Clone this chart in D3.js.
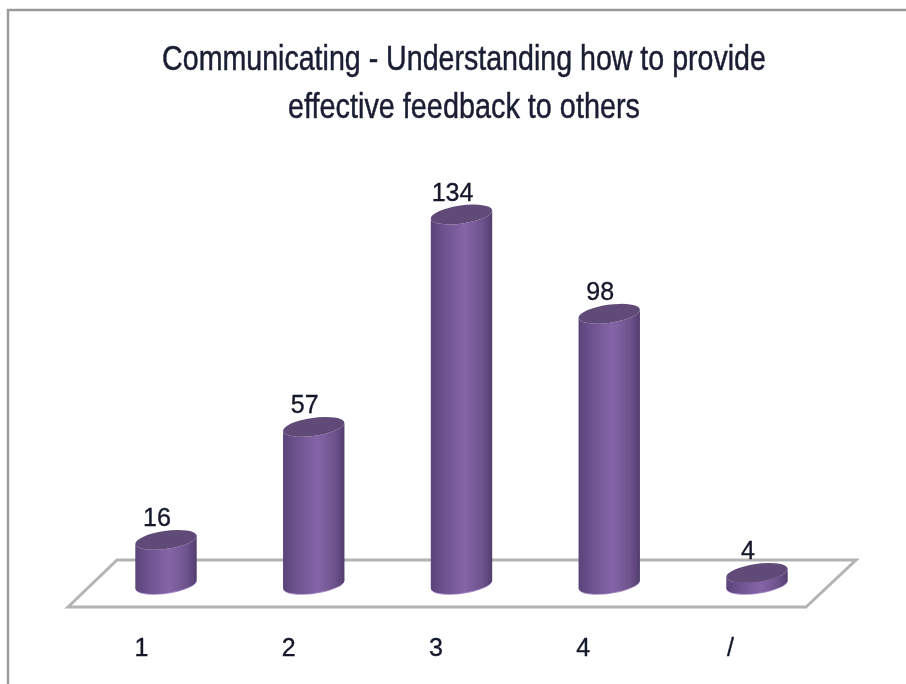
<!DOCTYPE html>
<html><head><meta charset="utf-8">
<script src="https://cdn.jsdelivr.net/npm/d3@7/dist/d3.min.js"></script>
<style>html,body{margin:0;padding:0;background:#fff}svg{display:block}</style>
</head><body><svg id="c" width="906" height="684"></svg>
<script>
const titleLines = ["Communicating - Understanding how to provide", "effective feedback to others"];
const categories = ["1", "2", "3", "4", "/"];
const values = [16, 57, 134, 98, 4];

const FONT = "'Liberation Sans Narrow','Liberation Sans',sans-serif";
const svg = d3.select("#c");
const defs = svg.append("defs");
defs.append("filter").attr("id","soft").append("feGaussianBlur").attr("stdDeviation",0.7);
const g = defs.append("linearGradient").attr("id","body");
[[0,"#5a4378"],[0.14,"#674e88"],[0.55,"#8565a8"],[0.85,"#6c528b"],[1,"#523d6d"]]
  .forEach(([o,c])=>g.append("stop").attr("offset",o).attr("stop-color",c));

const root = svg.append("g").attr("filter","url(#soft)");

// frame
root.append("path").attr("d","M8,684V10H906").attr("fill","none").attr("stroke","#9a9a9a").attr("stroke-width",2.5);

// title
titleLines.forEach((t,i)=>{
  const el = root.append("text").attr("text-anchor","middle")
    .attr("font-family",FONT).attr("font-size",36)
    .attr("fill","#1a1f33").attr("stroke","#1a1f33").attr("stroke-width",0.5).text(t);
  const w = el.node().getComputedTextLength();
  el.attr("transform",`translate(464,${[70,118][i]}) scale(${[604,352][i]/w},1)`);
});

// floor
root.append("path").attr("d","M68,607L117,560H856L806,607Z").attr("fill","#fff")
  .attr("stroke","#b4b4b4").attr("stroke-width",3).attr("stroke-linejoin","miter");

// scales
const x = d3.scalePoint().domain(categories).range([166,757]);
const y = d3.scaleLinear().domain([0,134]).range([584,214.5]);
const rx = 31, ry = 9, rot = -8;
const dx = rx*Math.cos(rot*Math.PI/180), dy = rx*Math.sin(rot*Math.PI/180);

const bars = root.selectAll("g.bar").data(categories.map((c,i)=>({c,v:values[i]}))).join("g").attr("class","bar");
// lilac rim under each cylinder
bars.append("ellipse").attr("rx",rx).attr("ry",ry)
  .attr("transform",d=>`translate(${x(d.c)},${y(0)+0.8}) rotate(${rot})`).attr("fill","#a98fca");
bars.append("path").attr("fill","url(#body)")
  .attr("d",d=>{
    const cx=x(d.c), t=y(d.v), b=y(0);
    return `M${cx-dx},${t-dy}L${cx-dx},${b-dy}A${rx},${ry} ${rot} 0 0 ${cx+dx},${b+dy}L${cx+dx},${t+dy}A${rx},${ry} ${rot} 0 1 ${cx-dx},${t-dy}Z`;
  });
bars.append("ellipse").attr("rx",rx).attr("ry",ry)
  .attr("transform",d=>`translate(${x(d.c)},${y(d.v)}) rotate(${rot})`).attr("fill","#604b78");

// value labels
bars.append("text").attr("x",d=>x(d.c)-9).attr("y",d=>y(d.v)-14)
  .attr("text-anchor","middle").attr("font-family",FONT).attr("font-size",25)
  .attr("fill","#14182a").attr("stroke","#14182a").attr("stroke-width",0.35).text(d=>d.v);

// category axis
const axisX = d3.scalePoint().domain(categories).range([141,730]);
const ax = root.append("g").attr("transform","translate(0,632)")
  .call(d3.axisBottom(axisX).tickSize(0).tickPadding(6));
ax.select(".domain").remove();
ax.selectAll("text").attr("font-family",FONT).attr("font-size",25)
  .attr("fill","#14182a").attr("stroke","#14182a").attr("stroke-width",0.35);
</script></body></html>
